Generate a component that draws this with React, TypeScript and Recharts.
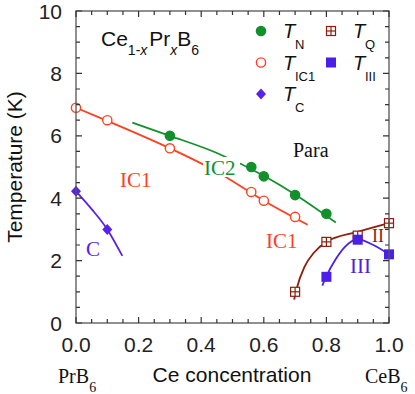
import { ComposedChart, Line, Scatter, XAxis, YAxis } from 'recharts'

// measured transition points
const tN = [
  { x: 0.3, y: 6.0 },
  { x: 0.56, y: 5.0 },
  { x: 0.6, y: 4.7 },
  { x: 0.7, y: 4.1 },
  { x: 0.8, y: 3.5 },
]
const tIC1 = [
  { x: 0.0, y: 6.9 },
  { x: 0.1, y: 6.5 },
  { x: 0.3, y: 5.6 },
  { x: 0.56, y: 4.2 },
  { x: 0.6, y: 3.92 },
  { x: 0.7, y: 3.4 },
]
const tC = [
  { x: 0.0, y: 4.22 },
  { x: 0.1, y: 3.0 },
]
const tQ = [
  { x: 0.7, y: 1.0 },
  { x: 0.8, y: 2.6 },
  { x: 0.9, y: 2.8 },
  { x: 1.0, y: 3.2 },
]
const tIII = [
  { x: 0.8, y: 1.48 },
  { x: 0.9, y: 2.67 },
  { x: 1.0, y: 2.2 },
]

// guide-to-the-eye boundary curves
const ic2Curve = [
  { x: 0.18, y: 6.42 },
  { x: 0.3, y: 6.0 },
  { x: 0.45, y: 5.45 },
  { x: 0.6, y: 4.72 },
  { x: 0.7, y: 4.12 },
  { x: 0.83, y: 3.22 },
]
const ic1Curve = [
  { x: 0.0, y: 6.9 },
  { x: 0.1, y: 6.48 },
  { x: 0.3, y: 5.6 },
  { x: 0.45, y: 4.85 },
  { x: 0.6, y: 3.92 },
  { x: 0.74, y: 3.15 },
]
const cCurve = [
  { x: 0.0, y: 4.22 },
  { x: 0.05, y: 3.65 },
  { x: 0.1, y: 3.0 },
  { x: 0.148, y: 2.15 },
]
const qCurve = [
  { x: 0.697, y: 0.75 },
  { x: 0.705, y: 1.1 },
  { x: 0.73, y: 1.8 },
  { x: 0.76, y: 2.25 },
  { x: 0.8, y: 2.6 },
  { x: 0.9, y: 2.92 },
  { x: 1.0, y: 3.2 },
]
const iiiCurve = [
  { x: 0.787, y: 1.2 },
  { x: 0.8, y: 1.5 },
  { x: 0.83, y: 2.05 },
  { x: 0.86, y: 2.45 },
  { x: 0.9, y: 2.68 },
  { x: 0.95, y: 2.5 },
  { x: 1.0, y: 2.2 },
]

const xTicks = [0, 0.05, 0.1, 0.15, 0.2, 0.25, 0.3, 0.35, 0.4, 0.45, 0.5, 0.55, 0.6, 0.65, 0.7, 0.75, 0.8, 0.85, 0.9, 0.95, 1.0]
const xMajor = [0, 0.2, 0.4, 0.6, 0.8, 1.0]
const yTicks = [0, 0.5, 1, 1.5, 2, 2.5, 3, 3.5, 4, 4.5, 5, 5.5, 6, 6.5, 7, 7.5, 8, 8.5, 9, 9.5, 10]
const yMajor = [0, 2, 4, 6, 8, 10]

const X_MIN = 0
const X_MAX = 1
const Y_MIN = 0
const Y_MAX = 10

// chart box
const W = 415
const H = 394
const M = { top: 11, right: 26 }
const Y_AXIS_W = 76
const X_AXIS_H = 71
const PLOT = { left: Y_AXIS_W, right: W - M.right, top: M.top, bottom: H - X_AXIS_H }

const C = {
  green: '#12902c',
  red: '#ff401e',
  violet: '#5a22e6',
  blue: '#4b1fe8',
  maroon: '#8e1d0e',
  axis: '#333',
  frame: '#555',
}
const SANS = '"Liberation Sans", Arial, sans-serif'
const SERIF = '"Liberation Serif", "Times New Roman", serif'

const isMajor = (list: number[], v: number) => list.some((m) => Math.abs(m - v) < 1e-6)
const px = (v: number) => PLOT.left + ((v - X_MIN) / (X_MAX - X_MIN)) * (PLOT.right - PLOT.left)
const py = (v: number) => PLOT.bottom - ((v - Y_MIN) / (Y_MAX - Y_MIN)) * (PLOT.bottom - PLOT.top)

const LeftTick = (props: any) => {
  const major = isMajor(yMajor, props.payload.value)
  if (!major) return <g />
  return (
    <text x={props.x - 14} y={props.y + 7.5} textAnchor="end" fontSize={21} fontFamily={SANS} fill="#222">
      {props.payload.value}
    </text>
  )
}
const BottomTick = (props: any) => {
  const major = isMajor(xMajor, props.payload.value)
  if (!major) return <g />
  return (
    <text x={props.x} y={props.y + 29} textAnchor="middle" fontSize={21} fontFamily={SANS} fill="#222">
      {props.payload.value.toFixed(1)}
    </text>
  )
}

const Dot = (color: string, open = false) => (p: any) => (
  <circle cx={p.cx} cy={p.cy} r={4.6} fill={open ? '#fff' : color} stroke={color} strokeWidth={1.4} />
)
const Diamond = (color: string) => (p: any) => (
  <path d={`M${p.cx},${p.cy - 5.5}L${p.cx + 5},${p.cy}L${p.cx},${p.cy + 5.5}L${p.cx - 5},${p.cy}Z`} fill={color} />
)
const Box = (color: string) => (p: any) => (
  <rect x={p.cx - 5} y={p.cy - 5} width={10} height={10} fill={color} />
)
const GridBox = (color: string) => (p: any) => (
  <g stroke={color} strokeWidth={1.2} fill="#fff">
    <rect x={p.cx - 4.5} y={p.cy - 4.5} width={9} height={9} />
    <line x1={p.cx - 4.5} x2={p.cx + 4.5} y1={p.cy} y2={p.cy} />
    <line x1={p.cx} x2={p.cx} y1={p.cy - 4.5} y2={p.cy + 4.5} />
  </g>
)

const legendItems = [
  { sub: 'N', shape: Dot(C.green), col: 0, row: 0 },
  { sub: 'IC1', shape: Dot(C.red, true), col: 0, row: 1 },
  { sub: 'C', shape: Diamond(C.violet), col: 0, row: 2 },
  { sub: 'Q', shape: GridBox(C.maroon), col: 1, row: 0 },
  { sub: 'III', shape: Box(C.blue), col: 1, row: 1 },
]

function Frame() {
  const tickPath =
    xTicks
      .map((v) => {
        const len = isMajor(xMajor, v) ? 6 : 4
        const x = px(v)
        return `M${x},${PLOT.bottom}v${-len}M${x},${PLOT.top}v${len}`
      })
      .join('') +
    yTicks
      .map((v) => {
        const len = isMajor(yMajor, v) ? 6 : 4
        const y = py(v)
        return `M${PLOT.left},${y}h${len}M${PLOT.right},${y}h${-len}`
      })
      .join('')
  return (
    <g fill="none">
      <rect
        x={PLOT.left}
        y={PLOT.top}
        width={PLOT.right - PLOT.left}
        height={PLOT.bottom - PLOT.top}
        stroke={C.frame}
        strokeWidth={1.3}
      />
      <path d={tickPath} stroke={C.axis} strokeWidth={1.2} />
    </g>
  )
}

function Overlay() {
  return (
    <svg width={W} height={H} style={{ position: 'absolute', left: 0, top: 0, pointerEvents: 'none' }}>
      <Frame />

      {/* compound label */}
      <text x={101} y={46} fontSize={21} fontFamily={SANS} fill="#111">
        Ce
        <tspan fontSize={14} dy={9}>1-</tspan>
        <tspan fontSize={14} fontStyle="italic">x</tspan>
        <tspan fontSize={21} dy={-9} dx={2}>Pr</tspan>
        <tspan fontSize={14} dy={9} fontStyle="italic">x</tspan>
        <tspan fontSize={21} dy={-9}>B</tspan>
        <tspan fontSize={14} dy={9}>6</tspan>
      </text>

      {legendItems.map((it) => {
        const mx = it.col === 0 ? 261 : 331
        const my = 31 + it.row * 31.5
        const S = it.shape
        return (
          <g key={it.sub}>
            <S cx={mx} cy={my} />
            <text x={mx + 22} y={my + 7} fontSize={20} fontFamily={SANS} fontStyle="italic" fill="#111">
              T
            </text>
            <text x={mx + 34} y={my + 18} fontSize={13} fontFamily={SANS} fill="#111">
              {it.sub}
            </text>
          </g>
        )
      })}

      {/* phase labels */}
      <text x={120} y={187} fontSize={21} fontFamily={SERIF} fill={C.red}>IC1</text>
      <rect x={203} y={157} width={37} height={20} fill="#fff" />
      <text x={204} y={175} fontSize={21} fontFamily={SERIF} fill={C.green}>IC2</text>
      <text x={293} y={157} fontSize={20} fontFamily={SERIF} fill="#111">Para</text>
      <text x={266} y={248} fontSize={21} fontFamily={SERIF} fill={C.red}>IC1</text>
      <text x={86} y={256} fontSize={21} fontFamily={SERIF} fill={C.violet}>C</text>
      <text x={372} y={242} fontSize={18} fontFamily={SERIF} fill={C.maroon}>II</text>
      <text x={350} y={273} fontSize={21} fontFamily={SERIF} fill={C.blue}>III</text>

      {/* axis titles */}
      <text
        x={22}
        y={167}
        transform="rotate(-90 22 167)"
        textAnchor="middle"
        fontSize={21}
        fontFamily={SANS}
        fill="#111"
      >
        Temperature (K)
      </text>
      <text x={232} y={382} textAnchor="middle" fontSize={21} fontFamily={SANS} fill="#111">
        Ce concentration
      </text>
      <text x={58} y={383} fontSize={20} fontFamily={SERIF} fill="#111">
        PrB<tspan fontSize={14} dy={9}>6</tspan>
      </text>
      <text x={365} y={383} fontSize={20} fontFamily={SERIF} fill="#111">
        CeB<tspan fontSize={14} dy={9}>6</tspan>
      </text>
    </svg>
  )
}

export default function App() {
  return (
    <div style={{ position: 'absolute', left: 0, top: 0, width: W, height: H, background: '#fff' }}>
      <ComposedChart width={W} height={H} margin={{ top: M.top, right: M.right, bottom: 0, left: 0 }}>
        <XAxis
          xAxisId="b"
          dataKey="x"
          type="number"
          domain={[X_MIN, X_MAX]}
          ticks={xTicks}
          interval={0}
          height={X_AXIS_H}
          tickSize={0}
          tickMargin={0}
          tick={<BottomTick />}
          axisLine={false}
        />
        <YAxis
          yAxisId="l"
          dataKey="y"
          type="number"
          domain={[Y_MIN, Y_MAX]}
          ticks={yTicks}
          interval={0}
          width={Y_AXIS_W}
          tickSize={0}
          tickMargin={0}
          tick={<LeftTick />}
          axisLine={false}
        />

        <Line xAxisId="b" yAxisId="l" data={ic2Curve} dataKey="y" type="monotone" stroke={C.green} strokeWidth={1.8} dot={false} isAnimationActive={false} />
        <Line xAxisId="b" yAxisId="l" data={ic1Curve} dataKey="y" type="monotone" stroke={C.red} strokeWidth={1.8} dot={false} isAnimationActive={false} />
        <Line xAxisId="b" yAxisId="l" data={cCurve} dataKey="y" type="monotone" stroke={C.violet} strokeWidth={1.8} dot={false} isAnimationActive={false} />
        <Line xAxisId="b" yAxisId="l" data={qCurve} dataKey="y" type="monotone" stroke={C.maroon} strokeWidth={1.8} dot={false} isAnimationActive={false} />
        <Line xAxisId="b" yAxisId="l" data={iiiCurve} dataKey="y" type="monotone" stroke={C.blue} strokeWidth={1.8} dot={false} isAnimationActive={false} />

        <Scatter xAxisId="b" yAxisId="l" data={tN} dataKey="y" shape={Dot(C.green)} isAnimationActive={false} />
        <Scatter xAxisId="b" yAxisId="l" data={tIC1} dataKey="y" shape={Dot(C.red, true)} isAnimationActive={false} />
        <Scatter xAxisId="b" yAxisId="l" data={tC} dataKey="y" shape={Diamond(C.violet)} isAnimationActive={false} />
        <Scatter xAxisId="b" yAxisId="l" data={tQ} dataKey="y" shape={GridBox(C.maroon)} isAnimationActive={false} />
        <Scatter xAxisId="b" yAxisId="l" data={tIII} dataKey="y" shape={Box(C.blue)} isAnimationActive={false} />
      </ComposedChart>
      <Overlay />
    </div>
  )
}
